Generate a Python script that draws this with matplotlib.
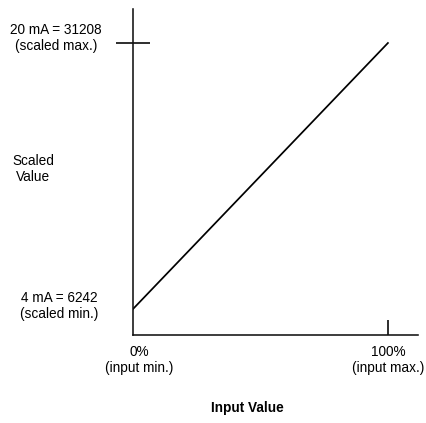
import matplotlib
matplotlib.use("Agg")
import matplotlib.pyplot as plt

plt.rcParams['font.family'] = ['Liberation Sans', 'DejaVu Sans']

# data
input_pct = [0, 100]
scaled_val = [6242, 31208]
y_labels = ["4 mA = 6242\n(scaled min.)", "20 mA = 31208\n(scaled max.)"]
x_labels = ["0%\n(input min.)", "100%\n(input max.)"]

W, H = 427, 423
fig = plt.figure(figsize=(W / 100, H / 100), dpi=100)
ax = fig.add_axes([133 / W, (H - 335) / H, 285 / W, 326 / H])

ax.plot(input_pct, scaled_val, color='black', lw=1.25)
ax.set_xlim(0, 111.8)
ax.set_ylim(3802, 34399)

for s in ['top', 'right']:
    ax.spines[s].set_visible(False)
for s in ['left', 'bottom']:
    ax.spines[s].set_linewidth(1.15)
    ax.spines[s].set_color('#111111')

# max tick crosses the y axis, 100% tick points inward (lengths in points)
ax.set_yticks([scaled_val[1]])
ax.set_xticks([input_pct[1]])
ax.tick_params(axis='y', direction='inout', length=24.5, width=1.15, labelleft=False)
ax.tick_params(axis='x', direction='in', length=11, width=1.15, labelbottom=False)


def px(x, y):
    # pixel position (from top-left) -> figure fraction
    return x / W, 1 - y / H


fs = 9.8
kw = dict(ha='center', va='center', fontsize=fs, linespacing=1.15)
fig.text(*px(56, 38), y_labels[1], **kw)
fig.text(*px(59, 306), y_labels[0], **kw)
fig.text(*px(33, 169), "Scaled\nValue", **kw)
fig.text(*px(139, 360), x_labels[0], **kw)
fig.text(*px(388, 360), x_labels[1], **kw)
fig.text(*px(247, 408), "Input Value", ha='center', va='center', fontsize=fs, fontweight='bold')

fig.savefig("out.png", dpi=100)
